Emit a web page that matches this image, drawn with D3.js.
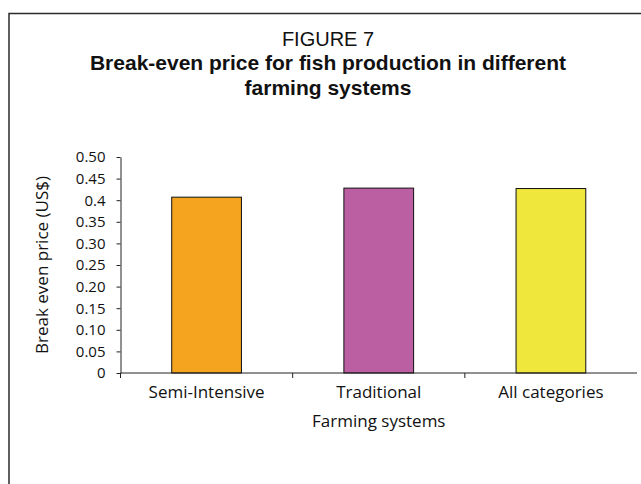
<!DOCTYPE html>
<html>
<head>
<meta charset="utf-8">
<script src="https://cdn.jsdelivr.net/npm/d3@7"></script>
<style>
  html, body { margin: 0; padding: 0; background: #fff; }
  svg { display: block; font-family: "Open Sans", "Noto Sans", sans-serif; }
</style>
</head>
<body>
<svg id="chart" width="641" height="484"></svg>
<script>
// Break-even price (US$) per farming system
const categories = ["Semi-Intensive", "Traditional", "All categories"];
const values = [0.407, 0.428, 0.427];
const barColors = ["#F4A41F", "#BC5EA2", "#F0E73D"];
const yTickValues = [0, 0.05, 0.10, 0.15, 0.20, 0.25, 0.30, 0.35, 0.40, 0.45, 0.50];
const yTickLabels = ["0", "0.05", "0.10", "0.15", "0.20", "0.25", "0.30", "0.35", "0.4", "0.45", "0.50"];
const titleLines = ["FIGURE 7", "Break-even price for fish production in different", "farming systems"];
const yTitle = "Break even price (US$)";
const xTitle = "Farming systems";

const svg = d3.select("#chart");
const W = 641, H = 484;

// page frame (right and bottom edges run off the page)
svg.append("rect")
  .attr("x", 9).attr("y", 13.5)
  .attr("width", W).attr("height", H)
  .attr("fill", "none").attr("stroke", "#2b2b2b").attr("stroke-width", 1.5);

// title block: figure number, then the bold two-line heading
// (a compact-metric face keeps the tight line spacing clear)
const cx = 328;
const titleFont = "'Liberation Sans', Arial, sans-serif";
svg.append("text")
  .attr("x", cx).attr("y", 46)
  .attr("text-anchor", "middle").attr("fill", "#111")
  .attr("font-family", titleFont).attr("font-size", 20)
  .text(titleLines[0]);
svg.selectAll("text.heading").data(titleLines.slice(1)).join("text")
  .attr("class", "heading")
  .attr("x", cx).attr("y", (d, i) => 70 + i * 25)
  .attr("text-anchor", "middle").attr("fill", "#111")
  .attr("font-family", titleFont).attr("font-size", 21).attr("font-weight", "bold")
  .text(d => d);

// plot area
const plot = { left: 120.5, right: 637, top: 157, bottom: 373 };

const x = d3.scaleBand().domain(categories)
  .range([plot.left, plot.right]).paddingInner(0).paddingOuter(0);
const y = d3.scaleLinear().domain([0, 0.5]).range([plot.bottom, plot.top]);

// bars: about 70px wide inside 172px bands
const barFrac = 0.405;
svg.append("g").selectAll("rect").data(categories).join("rect")
  .attr("x", d => x(d) + x.bandwidth() * (1 - barFrac) / 2)
  .attr("width", x.bandwidth() * barFrac)
  .attr("y", (d, i) => y(values[i]))
  .attr("height", (d, i) => y(0) - y(values[i]))
  .attr("fill", (d, i) => barColors[i])
  .attr("stroke", "#111").attr("stroke-width", 1);

// y axis
const yAxis = d3.axisLeft(y)
  .tickValues(yTickValues)
  .tickFormat((d, i) => yTickLabels[i])
  .tickSize(4).tickSizeOuter(0).tickPadding(11);
const gy = svg.append("g").attr("transform", `translate(${plot.left},0)`).call(yAxis);
gy.select(".domain").attr("stroke", "#222");
gy.selectAll(".tick line").attr("stroke", "#222");
gy.selectAll(".tick text").attr("font-size", 15).attr("fill", "#111")
  .attr("font-family", "Open Sans, sans-serif");

// x axis: ticks fall between categories
const gx = svg.append("g").attr("transform", `translate(0,${plot.bottom})`);
gx.append("line")
  .attr("x1", plot.left).attr("x2", plot.right)
  .attr("y1", 0).attr("y2", 0).attr("stroke", "#222");
gx.selectAll("line.tk").data(categories).join("line")
  .attr("class", "tk")
  .attr("x1", d => x(d)).attr("x2", d => x(d))
  .attr("y1", 0).attr("y2", 5).attr("stroke", "#222");
gx.selectAll("text").data(categories).join("text")
  .attr("x", d => x(d) + x.bandwidth() / 2)
  .attr("y", 25)
  .attr("text-anchor", "middle").attr("font-size", 17).attr("fill", "#111")
  .text(d => d);

// axis titles
svg.append("text")
  .attr("x", (plot.left + plot.right) / 2).attr("y", 427)
  .attr("text-anchor", "middle").attr("font-size", 17).attr("fill", "#111")
  .text(xTitle);
svg.append("text")
  .attr("transform", `translate(48,${(plot.top + plot.bottom) / 2}) rotate(-90)`)
  .attr("text-anchor", "middle").attr("font-size", 17).attr("fill", "#111")
  .text(yTitle);
</script>
</body>
</html>
